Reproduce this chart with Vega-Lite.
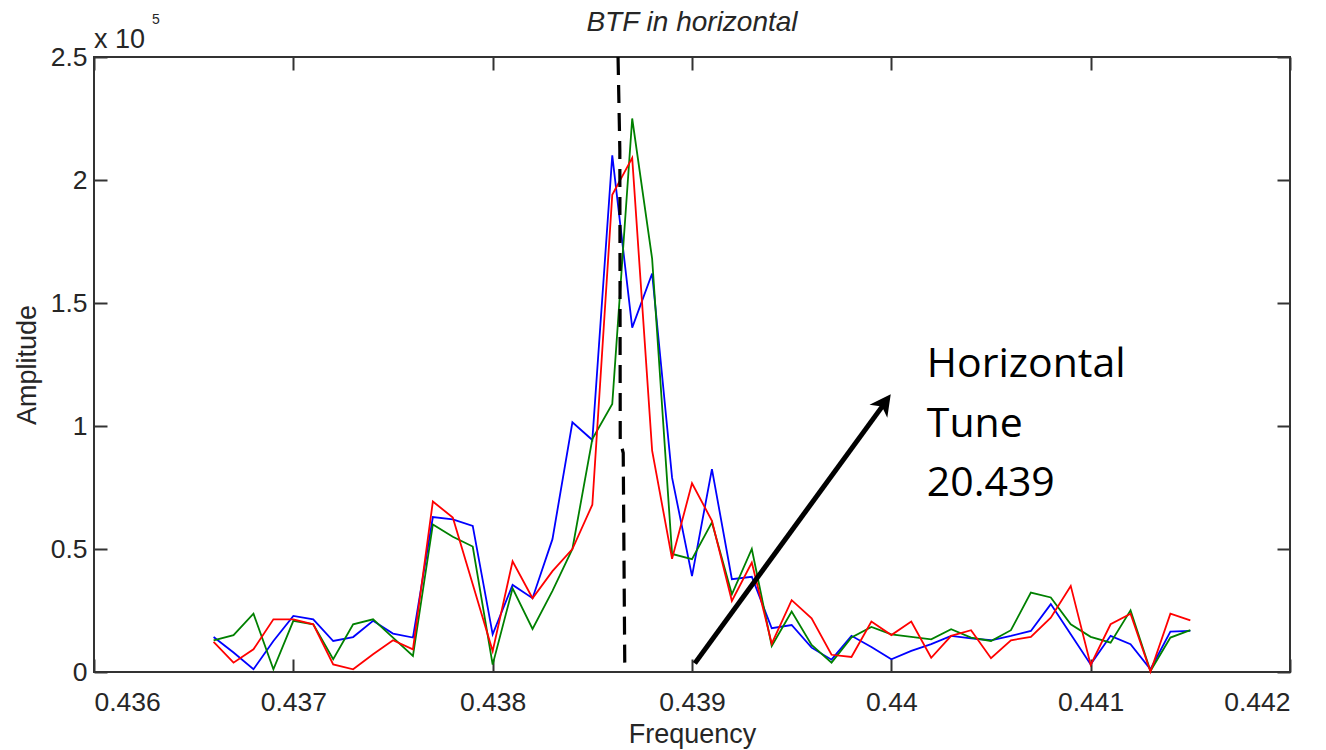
{
  "$schema": "https://vega.github.io/schema/vega-lite/v6.json",
  "width": 1196,
  "height": 615,
  "autosize": "none",
  "padding": {"left": 94, "top": 57, "right": 36, "bottom": 78},
  "background": "white",
  "config": {
    "view": {"stroke": "#333333", "strokeWidth": 2},
    "axis": {
      "domain": false,
      "grid": false,
      "minExtent": 0,
      "tickSize": -13,
      "tickWidth": 2,
      "tickColor": "#333333",
      "labelFont": "Liberation Sans",
      "labelFontSize": 26.5,
      "labelColor": "#262626",
      "titleFont": "Liberation Sans",
      "titleFontSize": 27,
      "titleFontWeight": "normal",
      "titleColor": "#262626"
    }
  },
  "title": {
    "text": "BTF in horizontal",
    "font": "Liberation Sans",
    "fontSize": 28,
    "fontStyle": "italic",
    "fontWeight": "normal",
    "color": "#262626",
    "offset": 25,
    "dy": 71,
    "baseline": "alphabetic"
  },
  "datasets": {
    "btf": [
      {"f": 0.4366, "b": 14200, "g": 12900, "r": 12200},
      {"f": 0.4367, "b": 7900, "g": 15000, "r": 3800},
      {"f": 0.4368, "b": 1100, "g": 23700, "r": 9200},
      {"f": 0.4369, "b": 12600, "g": 1100, "r": 21400},
      {"f": 0.4370, "b": 22800, "g": 20800, "r": 21400},
      {"f": 0.4371, "b": 21400, "g": 19400, "r": 19400},
      {"f": 0.4372, "b": 12600, "g": 5200, "r": 3100},
      {"f": 0.4373, "b": 14200, "g": 19400, "r": 1100},
      {"f": 0.4374, "b": 20800, "g": 21400, "r": 7200},
      {"f": 0.4375, "b": 15600, "g": 14000, "r": 12900},
      {"f": 0.4376, "b": 14000, "g": 6500, "r": 9200},
      {"f": 0.4377, "b": 63000, "g": 60000, "r": 69300},
      {"f": 0.4378, "b": 62000, "g": 55000, "r": 62800},
      {"f": 0.4379, "b": 59400, "g": 51000, "r": 35700},
      {"f": 0.4380, "b": 15300, "g": 3000, "r": 8500},
      {"f": 0.4381, "b": 35400, "g": 34000, "r": 45000},
      {"f": 0.4382, "b": 30000, "g": 17500, "r": 30000},
      {"f": 0.4383, "b": 54000, "g": 33000, "r": 41000},
      {"f": 0.4384, "b": 101500, "g": 50000, "r": 50000},
      {"f": 0.4385, "b": 94300, "g": 94700, "r": 68000},
      {"f": 0.4386, "b": 210000, "g": 109000, "r": 194000},
      {"f": 0.4387, "b": 140000, "g": 225000, "r": 209000},
      {"f": 0.4388, "b": 162000, "g": 168000, "r": 90000},
      {"f": 0.4389, "b": 79000, "g": 48000, "r": 46000},
      {"f": 0.4390, "b": 39000, "g": 45900, "r": 76700},
      {"f": 0.4391, "b": 82500, "g": 60800, "r": 61500},
      {"f": 0.4392, "b": 37700, "g": 31600, "r": 28900},
      {"f": 0.4393, "b": 38700, "g": 50000, "r": 44500},
      {"f": 0.4394, "b": 17800, "g": 10600, "r": 11500},
      {"f": 0.4395, "b": 19100, "g": 24600, "r": 29200},
      {"f": 0.4396, "b": 9900, "g": 11000, "r": 21800},
      {"f": 0.4397, "b": 5000, "g": 3800, "r": 7000},
      {"f": 0.4398, "b": 14700, "g": 14000, "r": 6100},
      {"f": 0.4399, "b": 10200, "g": 18300, "r": 20500},
      {"f": 0.4400, "b": 5200, "g": 15300, "r": 15000},
      {"f": 0.4401, "b": 8600, "g": 14300, "r": 20500},
      {"f": 0.4402, "b": 11300, "g": 13300, "r": 5800},
      {"f": 0.4403, "b": 14700, "g": 17400, "r": 14700},
      {"f": 0.4404, "b": 13700, "g": 14000, "r": 17000},
      {"f": 0.4405, "b": 12900, "g": 12600, "r": 5600},
      {"f": 0.4406, "b": 14700, "g": 17000, "r": 12900},
      {"f": 0.4407, "b": 16700, "g": 32300, "r": 14300},
      {"f": 0.4408, "b": 27600, "g": 30300, "r": 22100},
      {"f": 0.4409, "b": 15300, "g": 19400, "r": 35000},
      {"f": 0.4410, "b": 3100, "g": 14300, "r": 2900},
      {"f": 0.4411, "b": 14700, "g": 11900, "r": 19400},
      {"f": 0.4412, "b": 11300, "g": 25100, "r": 23700},
      {"f": 0.4413, "b": 1100, "g": 400, "r": 100},
      {"f": 0.4414, "b": 16400, "g": 14000, "r": 23700},
      {"f": 0.4415, "b": 16700, "g": 17000, "r": 21000}
    ],
    "tune": [
      {"f": 0.438629, "amp": 250000},
      {"f": 0.438638, "amp": 212000},
      {"f": 0.438640, "amp": 94000},
      {"f": 0.438655, "amp": 89000},
      {"f": 0.438660, "amp": 33000},
      {"f": 0.438663, "amp": 0}
    ],
    "arrow": [
      {"f": 0.439014, "amp": 3500},
      {"f": 0.439962, "amp": 108800}
    ],
    "head": [
      {"f": 0.439997, "amp": 112900}
    ],
    "note": [
      {"f": 0.440178, "amp": 119800, "label": "Horizontal"},
      {"f": 0.440178, "amp": 95400, "label": "Tune"},
      {"f": 0.440178, "amp": 71400, "label": "20.439"}
    ],
    "exp": [
      {"f": 0.436, "amp": 250000, "label": "x 10", "sup": "5"}
    ]
  },
  "layer": [
    {
      "data": {"name": "btf"},
      "mark": {"type": "line", "color": "#0000ff", "strokeWidth": 1.8},
      "encoding": {
        "x": {
          "field": "f", "type": "quantitative",
          "scale": {"domain": [0.436, 0.442], "nice": false, "zero": false},
          "axis": {
            "orient": "bottom",
            "values": [0.436, 0.437, 0.438, 0.439, 0.44, 0.441, 0.442],
            "format": "~g",
            "labelPadding": 30,
            "title": "Frequency",
            "titlePadding": 6
          }
        },
        "y": {
          "field": "b", "type": "quantitative",
          "scale": {"domain": [0, 250000], "nice": false},
          "axis": {
            "orient": "left",
            "values": [0, 50000, 100000, 150000, 200000, 250000],
            "labelExpr": "format(datum.value / 100000, '~g')",
            "labelPadding": 20,
            "title": "Amplitude",
            "titlePadding": 9
          }
        }
      }
    },
    {
      "data": {"name": "btf"},
      "mark": {"type": "line", "color": "#008000", "strokeWidth": 1.8},
      "encoding": {
        "x": {"field": "f", "type": "quantitative", "axis": null},
        "y": {"field": "g", "type": "quantitative", "axis": null}
      }
    },
    {
      "data": {"name": "btf"},
      "mark": {"type": "line", "color": "#ff0000", "strokeWidth": 1.8},
      "encoding": {
        "x": {"field": "f", "type": "quantitative", "axis": null},
        "y": {"field": "r", "type": "quantitative", "axis": null}
      }
    },
    {
      "data": {"name": "tune"},
      "mark": {"type": "line", "color": "#000000", "strokeWidth": 3.2, "strokeDash": [18, 10]},
      "encoding": {
        "x": {
          "field": "f", "type": "quantitative",
          "axis": {
            "orient": "top",
            "values": [0.436, 0.437, 0.438, 0.439, 0.44, 0.441, 0.442],
            "labels": false,
            "title": null
          }
        },
        "y": {"field": "amp", "type": "quantitative", "axis": null},
        "order": {"field": "amp", "sort": "descending"}
      }
    },
    {
      "data": {"name": "arrow"},
      "mark": {"type": "line", "color": "#000000", "strokeWidth": 5},
      "encoding": {
        "x": {"field": "f", "type": "quantitative", "axis": null},
        "y": {
          "field": "amp", "type": "quantitative",
          "axis": {
            "orient": "right",
            "values": [0, 50000, 100000, 150000, 200000, 250000],
            "labels": false,
            "title": null
          }
        }
      }
    },
    {
      "data": {"name": "head"},
      "mark": {
        "type": "point",
        "shape": "M0,0 L0.55,1.05 L0,0.75 L-0.55,1.05 Z",
        "filled": true,
        "color": "#000000",
        "opacity": 1,
        "size": 1600,
        "angle": 36,
        "strokeWidth": 0
      },
      "encoding": {
        "x": {"field": "f", "type": "quantitative", "axis": null},
        "y": {"field": "amp", "type": "quantitative", "axis": null}
      }
    },
    {
      "data": {"name": "note"},
      "mark": {
        "type": "text",
        "font": "Open Sans",
        "fontSize": 41,
        "align": "left",
        "baseline": "alphabetic",
        "color": "#000000"
      },
      "encoding": {
        "x": {"field": "f", "type": "quantitative", "axis": null},
        "y": {"field": "amp", "type": "quantitative", "axis": null},
        "text": {"field": "label"}
      }
    },
    {
      "data": {"name": "exp"},
      "mark": {
        "type": "text",
        "font": "Liberation Sans",
        "fontSize": 27,
        "align": "left",
        "baseline": "alphabetic",
        "color": "#262626",
        "dy": -9
      },
      "encoding": {
        "x": {"field": "f", "type": "quantitative", "axis": null},
        "y": {"field": "amp", "type": "quantitative", "axis": null},
        "text": {"field": "label"}
      }
    },
    {
      "data": {"name": "exp"},
      "mark": {
        "type": "text",
        "font": "Liberation Sans",
        "fontSize": 14,
        "align": "left",
        "baseline": "alphabetic",
        "color": "#262626",
        "dx": 58,
        "dy": -33
      },
      "encoding": {
        "x": {"field": "f", "type": "quantitative", "axis": null},
        "y": {"field": "amp", "type": "quantitative", "axis": null},
        "text": {"field": "sup"}
      }
    }
  ],
  "resolve": {"axis": {"x": "independent", "y": "independent"}}
}
